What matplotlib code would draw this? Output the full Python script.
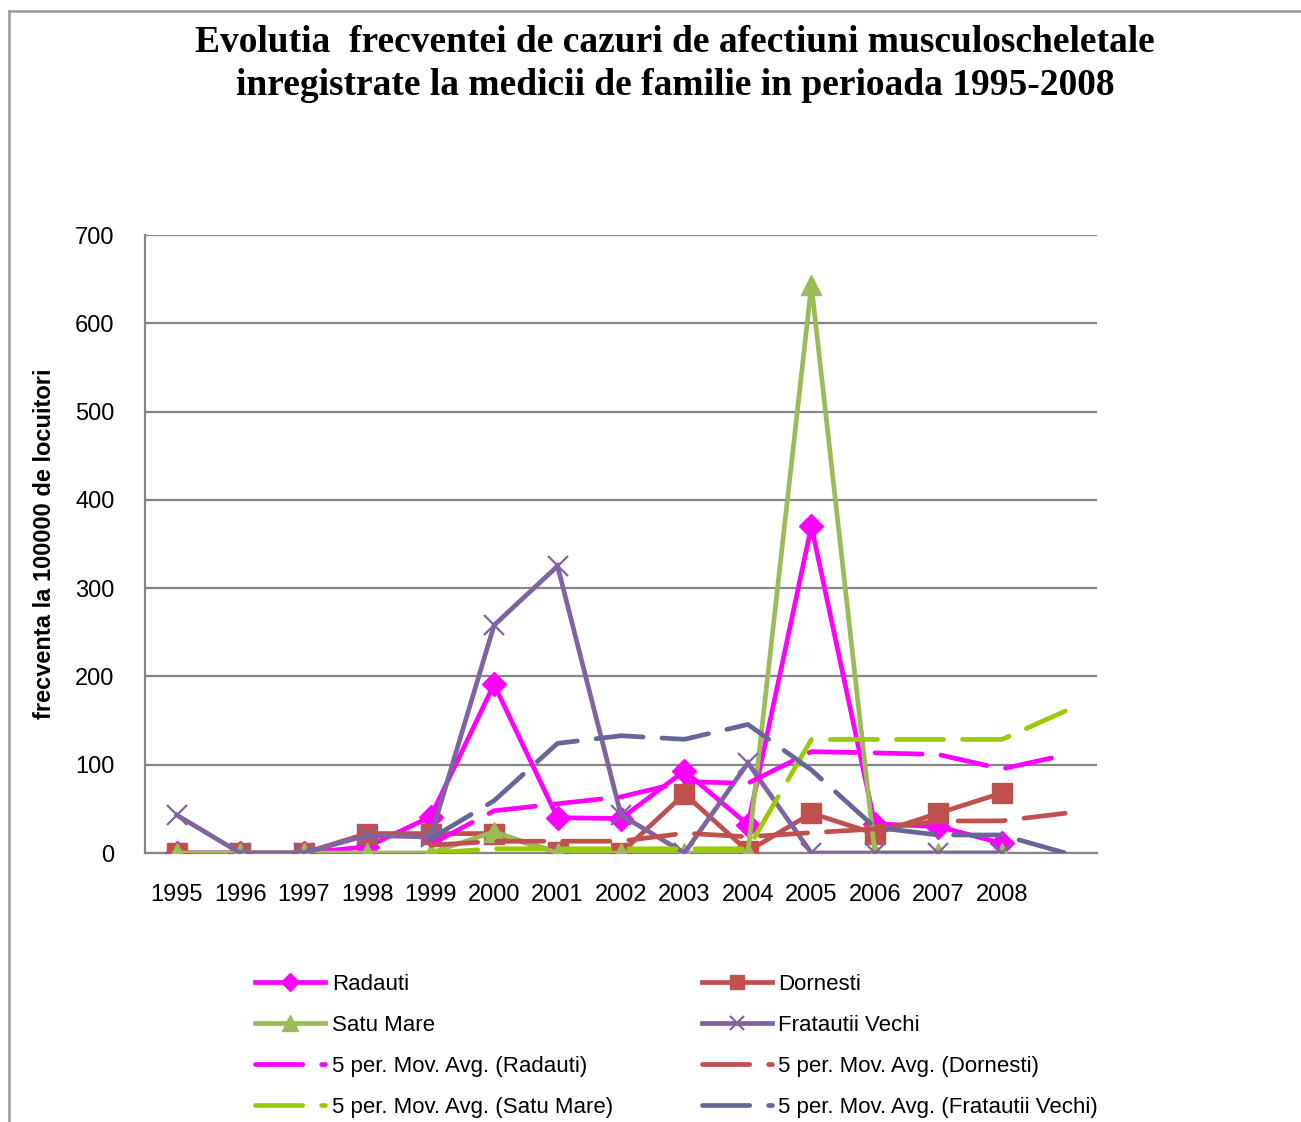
import numpy as np
import pandas as pd
import matplotlib
matplotlib.use("Agg")
import matplotlib.pyplot as plt
from matplotlib.lines import Line2D

plt.rcParams['font.family'] = ['Liberation Sans', 'DejaVu Sans']

# --- data -------------------------------------------------------------
years = ["1995", "1996", "1997", "1998", "1999", "2000", "2001",
         "2002", "2003", "2004", "2005", "2006", "2007", "2008"]

radauti = [0, 0, 0, 7, 41, 191, 40, 39, 93, 32, 370, 33, 30, 11]
dornesti = [0, 0, 0, 22, 22, 22, 1, 0, 67, 2, 45, 22, 45, 68]
satu_mare = [0, 0, 0, 0, 0, 24, 0, 0, 0, 0, 643, 0, 0, 0]
fratautii_vechi = [43, 0, 0, 20, 18, 258, 325, 43, 0, 102, 0, 0, 0, 0]

series_names = ["Radauti", "Dornesti", "Satu Mare", "Fratautii Vechi"]
ma_period = 5

title = ("Evolutia  frecventei de cazuri de afectiuni musculoscheletale\n"
         "inregistrate la medicii de familie in perioada 1995-2008")
y_label = "frecventa la 100000 de locuitori"

# --- styles -----------------------------------------------------------
line_colors = ["#FF00FF", "#C0504D", "#9BBB59", "#8064A2"]
ma_colors = ["#FF00FF", "#C0504D", "#99CC00", "#666699"]
markers = ["D", "s", "^", "x"]
marker_sizes = [12, 14, 15, 14]

fig = plt.figure(figsize=(13.01, 11.22), dpi=100)
ax = fig.add_axes([145 / 1301, 1 - 853 / 1122, (1097 - 145) / 1301, (853 - 235) / 1122])

n_cat = len(years) + 1          # category axis carries one empty slot
x = np.arange(len(years))
x_ext = np.arange(n_cat)

all_series = [radauti, dornesti, satu_mare, fratautii_vechi]

# data series
for vals, name, col, mk, ms in zip(all_series, series_names, line_colors, markers, marker_sizes):
    kw = dict(marker=mk, markersize=ms, color=col, lw=3.4, label=name, zorder=3,
              solid_joinstyle="miter")
    if mk == "x":
        kw.update(markeredgewidth=1.6)
    else:
        kw.update(markeredgecolor=col)
    ax.plot(x, vals, **kw)

# 5-period moving-average trendlines (blank trailing slot is skipped)
for vals, name, col in zip(all_series, series_names, ma_colors):
    s = pd.Series(list(vals) + [np.nan], dtype=float)
    ma = s.rolling(ma_period, min_periods=1).mean()
    ma[: ma_period - 1] = np.nan
    ax.plot(x_ext, ma, color=col, lw=3.4, ls=(0, (10, 4)),
            dash_capstyle="round", solid_capstyle="round",
            label=f"{ma_period} per. Mov. Avg. ({name})", zorder=4)

ax.set_xlim(-0.5, n_cat - 0.5)
ax.set_ylim(0, 700)
ax.set_yticks(np.arange(0, 701, 100))
ax.set_xticks(x)
ax.set_xticklabels(years)
ax.tick_params(axis="both", length=0, labelsize=17, colors="black")
ax.tick_params(axis="x", pad=22)
ax.tick_params(axis="y", pad=22)

ax.grid(axis="y", color="#868686", lw=1.6)
ax.set_axisbelow(True)
for side in ("top", "right"):
    ax.spines[side].set_visible(False)
for side in ("left", "bottom"):
    ax.spines[side].set_color("#868686")
    ax.spines[side].set_linewidth(1.6)

ax.set_ylabel(y_label, fontsize=17, fontweight="bold")
ax.yaxis.set_label_coords(-0.094, 0.5)

fig.text(675 / 1301, 1 - 64 / 1122, title, ha="center", va="center",
         fontsize=27, fontweight="bold", family=["Liberation Serif", "DejaVu Serif"],
         linespacing=1.28)

# legend: two columns filled row by row
handles, labels = ax.get_legend_handles_labels()
hmap = dict(zip(labels, handles))
lbl_order = [series_names[0], series_names[2],
             f"{ma_period} per. Mov. Avg. ({series_names[0]})",
             f"{ma_period} per. Mov. Avg. ({series_names[2]})",
             series_names[1], series_names[3],
             f"{ma_period} per. Mov. Avg. ({series_names[1]})",
             f"{ma_period} per. Mov. Avg. ({series_names[3]})"]
leg = fig.legend([hmap[l] for l in lbl_order], lbl_order, ncol=2,
                 loc="upper left", bbox_to_anchor=(255 / 1301, 1 - 974 / 1122),
                 frameon=False, fontsize=16, handlelength=3.15, handletextpad=0.3,
                 columnspacing=4.0, labelspacing=0.9, borderaxespad=0, borderpad=0,
                 markerscale=0.75)

# outer chart border (left and top edges)
fig.add_artist(Line2D([9 / 1301, 9 / 1301], [0, 1 - 11 / 1122], color="#9a9a9a", lw=1.8))
fig.add_artist(Line2D([9 / 1301, 1], [1 - 11 / 1122, 1 - 11 / 1122], color="#9a9a9a", lw=1.8))

fig.savefig("out.png", dpi=100)
